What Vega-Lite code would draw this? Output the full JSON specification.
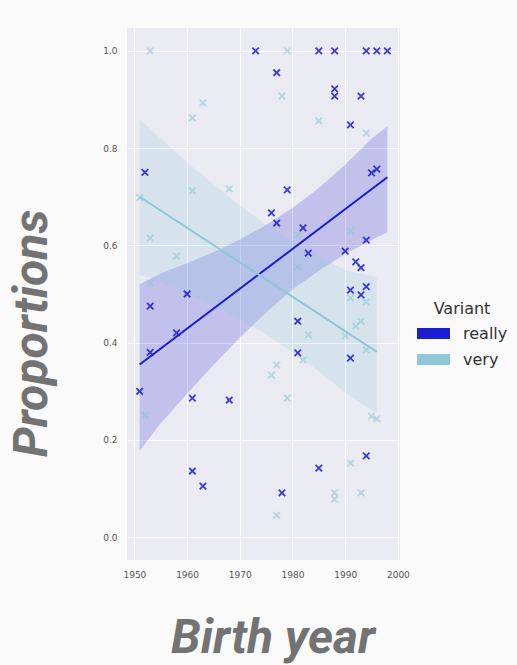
{
  "$schema": "https://vega.github.io/schema/vega-lite/v6.json",
  "width": 273,
  "height": 532,
  "autosize": {"type": "none"},
  "padding": {"left": 127, "top": 28, "right": 117, "bottom": 105},
  "background": "#fafafa",
  "datasets": {
    "points": [
      {"year": 1951, "prop": 0.30, "variant": "really"},
      {"year": 1952, "prop": 0.75, "variant": "really"},
      {"year": 1953, "prop": 0.475, "variant": "really"},
      {"year": 1953, "prop": 0.38, "variant": "really"},
      {"year": 1958, "prop": 0.42, "variant": "really"},
      {"year": 1960, "prop": 0.50, "variant": "really"},
      {"year": 1961, "prop": 0.286, "variant": "really"},
      {"year": 1968, "prop": 0.282, "variant": "really"},
      {"year": 1961, "prop": 0.136, "variant": "really"},
      {"year": 1963, "prop": 0.105, "variant": "really"},
      {"year": 1973, "prop": 1.0, "variant": "really"},
      {"year": 1977, "prop": 0.955, "variant": "really"},
      {"year": 1976, "prop": 0.667, "variant": "really"},
      {"year": 1977, "prop": 0.646, "variant": "really"},
      {"year": 1979, "prop": 0.714, "variant": "really"},
      {"year": 1982, "prop": 0.636, "variant": "really"},
      {"year": 1981, "prop": 0.444, "variant": "really"},
      {"year": 1981, "prop": 0.379, "variant": "really"},
      {"year": 1983, "prop": 0.584, "variant": "really"},
      {"year": 1985, "prop": 1.0, "variant": "really"},
      {"year": 1988, "prop": 1.0, "variant": "really"},
      {"year": 1988, "prop": 0.922, "variant": "really"},
      {"year": 1988, "prop": 0.907, "variant": "really"},
      {"year": 1991, "prop": 0.848, "variant": "really"},
      {"year": 1993, "prop": 0.907, "variant": "really"},
      {"year": 1994, "prop": 1.0, "variant": "really"},
      {"year": 1996, "prop": 1.0, "variant": "really"},
      {"year": 1998, "prop": 1.0, "variant": "really"},
      {"year": 1995, "prop": 0.749, "variant": "really"},
      {"year": 1996, "prop": 0.757, "variant": "really"},
      {"year": 1990, "prop": 0.588, "variant": "really"},
      {"year": 1994, "prop": 0.611, "variant": "really"},
      {"year": 1992, "prop": 0.566, "variant": "really"},
      {"year": 1993, "prop": 0.554, "variant": "really"},
      {"year": 1991, "prop": 0.508, "variant": "really"},
      {"year": 1993, "prop": 0.498, "variant": "really"},
      {"year": 1994, "prop": 0.515, "variant": "really"},
      {"year": 1991, "prop": 0.368, "variant": "really"},
      {"year": 1994, "prop": 0.167, "variant": "really"},
      {"year": 1985, "prop": 0.142, "variant": "really"},
      {"year": 1978, "prop": 0.091, "variant": "really"},
      {"year": 1953, "prop": 1.0, "variant": "very"},
      {"year": 1961, "prop": 0.862, "variant": "very"},
      {"year": 1963, "prop": 0.893, "variant": "very"},
      {"year": 1961, "prop": 0.712, "variant": "very"},
      {"year": 1968, "prop": 0.716, "variant": "very"},
      {"year": 1951, "prop": 0.698, "variant": "very"},
      {"year": 1953, "prop": 0.615, "variant": "very"},
      {"year": 1958, "prop": 0.578, "variant": "very"},
      {"year": 1953, "prop": 0.523, "variant": "very"},
      {"year": 1952, "prop": 0.251, "variant": "very"},
      {"year": 1979, "prop": 1.0, "variant": "very"},
      {"year": 1978, "prop": 0.907, "variant": "very"},
      {"year": 1985, "prop": 0.856, "variant": "very"},
      {"year": 1994, "prop": 0.831, "variant": "very"},
      {"year": 1981, "prop": 0.621, "variant": "very"},
      {"year": 1991, "prop": 0.63, "variant": "very"},
      {"year": 1981, "prop": 0.556, "variant": "very"},
      {"year": 1991, "prop": 0.492, "variant": "very"},
      {"year": 1994, "prop": 0.484, "variant": "very"},
      {"year": 1993, "prop": 0.444, "variant": "very"},
      {"year": 1992, "prop": 0.434, "variant": "very"},
      {"year": 1983, "prop": 0.416, "variant": "very"},
      {"year": 1990, "prop": 0.414, "variant": "very"},
      {"year": 1982, "prop": 0.364, "variant": "very"},
      {"year": 1994, "prop": 0.385, "variant": "very"},
      {"year": 1977, "prop": 0.354, "variant": "very"},
      {"year": 1976, "prop": 0.333, "variant": "very"},
      {"year": 1979, "prop": 0.286, "variant": "very"},
      {"year": 1995, "prop": 0.249, "variant": "very"},
      {"year": 1996, "prop": 0.243, "variant": "very"},
      {"year": 1991, "prop": 0.152, "variant": "very"},
      {"year": 1988, "prop": 0.091, "variant": "very"},
      {"year": 1988, "prop": 0.078, "variant": "very"},
      {"year": 1993, "prop": 0.091, "variant": "very"},
      {"year": 1977, "prop": 0.045, "variant": "very"}
    ],
    "bands": [
      {"year": 1951, "lo": 0.178, "hi": 0.52, "variant": "really"},
      {"year": 1955, "lo": 0.234, "hi": 0.542, "variant": "really"},
      {"year": 1960, "lo": 0.295, "hi": 0.563, "variant": "really"},
      {"year": 1965, "lo": 0.354, "hi": 0.586, "variant": "really"},
      {"year": 1970, "lo": 0.41, "hi": 0.612, "variant": "really"},
      {"year": 1975, "lo": 0.462, "hi": 0.642, "variant": "really"},
      {"year": 1980, "lo": 0.509, "hi": 0.677, "variant": "really"},
      {"year": 1985, "lo": 0.548, "hi": 0.718, "variant": "really"},
      {"year": 1990, "lo": 0.582, "hi": 0.766, "variant": "really"},
      {"year": 1995, "lo": 0.611, "hi": 0.819, "variant": "really"},
      {"year": 1998, "lo": 0.627, "hi": 0.845, "variant": "really"},
      {"year": 1951, "lo": 0.54, "hi": 0.86, "variant": "very"},
      {"year": 1955, "lo": 0.524, "hi": 0.82, "variant": "very"},
      {"year": 1960, "lo": 0.501, "hi": 0.771, "variant": "very"},
      {"year": 1965, "lo": 0.477, "hi": 0.725, "variant": "very"},
      {"year": 1970, "lo": 0.448, "hi": 0.682, "variant": "very"},
      {"year": 1975, "lo": 0.417, "hi": 0.643, "variant": "very"},
      {"year": 1980, "lo": 0.38, "hi": 0.608, "variant": "very"},
      {"year": 1985, "lo": 0.341, "hi": 0.577, "variant": "very"},
      {"year": 1990, "lo": 0.297, "hi": 0.549, "variant": "very"},
      {"year": 1996, "lo": 0.255, "hi": 0.535, "variant": "very"}
    ],
    "fits": [
      {"year": 1951, "fit": 0.355, "variant": "really"},
      {"year": 1998, "fit": 0.74, "variant": "really"},
      {"year": 1951, "fit": 0.70, "variant": "very"},
      {"year": 1996, "fit": 0.381, "variant": "very"}
    ]
  },
  "layer": [
    {
      "data": {"name": "bands"},
      "mark": {"type": "area", "opacity": 0.2},
      "encoding": {
        "x": {"field": "year", "type": "quantitative"},
        "y": {"field": "lo", "type": "quantitative"},
        "y2": {"field": "hi"},
        "color": {
          "field": "variant",
          "type": "nominal",
          "scale": {"domain": ["really", "very"], "range": ["#1c1cd2", "#8ec8d8"]},
          "legend": {
            "orient": "none",
            "legendX": 290,
            "legendY": 273,
            "title": "Variant",
            "titleFont": "DejaVu Sans",
            "titleFontSize": 16,
            "titleFontWeight": "normal",
            "titleColor": "#333333",
            "titleAnchor": "middle",
            "titlePadding": 0,
            "labelFont": "DejaVu Sans",
            "labelFontSize": 16,
            "labelColor": "#333333",
            "labelOffset": 13,
            "symbolType": "M-1,-0.33H1V0.33H-1Z",
            "symbolSize": 1089,
            "symbolStrokeWidth": 0,
            "symbolOpacity": 1,
            "rowPadding": 1,
            "encode": {"symbols": {"update": {"opacity": {"value": 1}, "fillOpacity": {"value": 1}}}}
          }
        }
      }
    },
    {
      "data": {"name": "fits"},
      "mark": {"type": "line", "strokeWidth": 2},
      "encoding": {
        "x": {"field": "year", "type": "quantitative"},
        "y": {"field": "fit", "type": "quantitative"},
        "color": {"field": "variant", "type": "nominal", "legend": null}
      }
    },
    {
      "data": {"name": "points"},
      "transform": [{"filter": "datum.variant === 'very'"}],
      "mark": {"type": "point", "shape": "M-1,-1L1,1M-1,1L1,-1", "filled": false, "size": 42, "strokeWidth": 1.8, "opacity": 0.6},
      "encoding": {
        "x": {"field": "year", "type": "quantitative"},
        "y": {"field": "prop", "type": "quantitative"},
        "color": {"field": "variant", "type": "nominal", "legend": null}
      }
    },
    {
      "data": {"name": "points"},
      "transform": [{"filter": "datum.variant === 'really'"}],
      "mark": {"type": "point", "shape": "M-1,-1L1,1M-1,1L1,-1", "filled": false, "size": 42, "strokeWidth": 1.8, "opacity": 0.85},
      "encoding": {
        "x": {
          "field": "year",
          "type": "quantitative",
          "scale": {"domain": [1948.6, 2000.4], "nice": false, "zero": false},
          "axis": {"values": [1950, 1960, 1970, 1980, 1990, 2000], "format": "d", "title": "Birth year", "titleX": 145.5, "titleY": 92, "titleAlign": "center", "titleBaseline": "alphabetic"}
        },
        "y": {
          "field": "prop",
          "type": "quantitative",
          "scale": {"domain": [-0.047, 1.047], "nice": false, "zero": false},
          "axis": {"values": [0, 0.2, 0.4, 0.6, 0.8, 1.0], "format": ".1f", "title": "Proportions", "titleX": -81, "titleY": 305, "titleAlign": "center", "titleBaseline": "alphabetic", "titleAngle": 270}
        },
        "color": {"field": "variant", "type": "nominal", "legend": null}
      }
    }
  ],
  "config": {
    "view": {"fill": "#eaeaf2", "stroke": null},
    "axis": {
      "domain": false,
      "ticks": false,
      "grid": true,
      "gridColor": "#ffffff",
      "gridWidth": 1,
      "gridOpacity": 1,
      "labelFont": "DejaVu Sans",
      "labelFontSize": 9,
      "labelColor": "#555555",
      "labelPadding": 10,
      "titleFont": "Roboto",
      "titleFontSize": 48,
      "titleFontStyle": "italic",
      "titleFontWeight": "bold",
      "titleColor": "#737373"
    }
  }
}
